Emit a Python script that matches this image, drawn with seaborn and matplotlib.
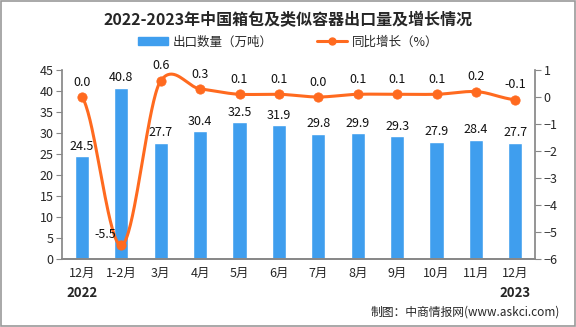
import numpy as np
import pandas as pd
import matplotlib
matplotlib.use("Agg")
import matplotlib.pyplot as plt
import seaborn as sns
from matplotlib.patches import Rectangle
from matplotlib.lines import Line2D
from matplotlib.patches import Patch

sns.set_theme(style="white")
plt.rcParams['font.family'] = ['Noto Sans CJK SC', 'DejaVu Sans']
plt.rcParams['axes.unicode_minus'] = False

categories = ["12月", "1-2月", "3月", "4月", "5月", "6月", "7月", "8月", "9月", "10月", "11月", "12月"]
volume = [24.5, 40.8, 27.7, 30.4, 32.5, 31.9, 29.8, 29.9, 29.3, 27.9, 28.4, 27.7]
growth = [0.0, -5.5, 0.6, 0.3, 0.1, 0.1, 0.0, 0.1, 0.1, 0.1, 0.2, -0.1]
years = ["2022", "2023"]

BAR = "#3f9eee"
LINE = "#ff6a1f"

fig = plt.figure(figsize=(5.76, 3.27), dpi=100)
ax = fig.add_axes([0.108, 0.208, 0.821, 0.578])
ax2 = ax.twinx()

df = pd.DataFrame({"cat": categories, "x": np.arange(len(categories)), "vol": volume, "g": growth})
sns.barplot(x="x", y="vol", data=df, ax=ax, color=BAR, width=0.36, saturation=1, native_scale=True)

# smooth curve (cardinal spline through the data points)
x = df["x"].to_numpy(float)
y = df["g"].to_numpy(float)
k = 0.35
m = np.zeros_like(y)
m[1:-1] = k * (y[2:] - y[:-2])
m[0] = k * (y[1] - y[0])
m[-1] = k * (y[-1] - y[-2])
xs, ys = [], []
for i in range(len(x) - 1):
    t = np.linspace(0, 1, 40)
    h00 = 2 * t**3 - 3 * t**2 + 1
    h10 = t**3 - 2 * t**2 + t
    h01 = -2 * t**3 + 3 * t**2
    h11 = t**3 - t**2
    seg = h00 * y[i] + h10 * m[i] + h01 * y[i + 1] + h11 * m[i + 1]
    xs.extend(x[i] + t)
    ys.extend(seg)
ax2.plot(xs, ys, color=LINE, lw=2.2, zorder=3)
sns.scatterplot(x="x", y="g", data=df, ax=ax2, color=LINE, s=45, edgecolor=LINE, zorder=4, legend=False)

ax.set_xlim(-0.5, len(categories) - 0.5)
ax.set_ylim(0, 45)
ax.set_yticks(np.arange(0, 46, 5))
ax2.set_ylim(-6, 1)
ax2.set_yticks(np.arange(-6, 2, 1))
ax2.set_yticklabels([f"{v:d}".replace("-", "−") for v in range(-6, 2)])

ax.set_xticks(np.arange(len(categories)))
ax.set_xticklabels(categories, fontsize=9)
ax.set_xticks(np.arange(-0.5, len(categories), 1), minor=True)
ax.tick_params(axis="x", which="major", length=0, pad=6)
ax.tick_params(axis="x", which="minor", length=5, color="#888888", width=0.8, direction="out")
ax.tick_params(axis="y", length=4, color="#888888", width=0.8, direction="out", labelsize=9, pad=2)
ax2.tick_params(axis="y", length=4, color="#888888", width=0.8, direction="out", labelsize=9, pad=2)
ax.set_xlabel("")
ax.set_ylabel("")
ax2.set_ylabel("")
ax2.set_xlabel("")

for a in (ax, ax2):
    a.spines["top"].set_visible(False)
    a.spines["left"].set_color("#888888")
    a.spines["right"].set_color("#888888")
    a.spines["bottom"].set_color("#888888")
ax.spines["right"].set_visible(False)
ax2.spines["left"].set_visible(False)
ax.grid(False)
ax2.grid(False)

for i, v in enumerate(volume):
    ax.text(i, v + 0.8, f"{v:.1f}", ha="center", va="bottom", fontsize=9, color="#111111")
for i, v in enumerate(growth):
    lab = f"{v:.1f}"
    if i == 1:
        ax2.annotate(lab, (i, v), xytext=(-4, 3), textcoords="offset points", ha="right", va="bottom", fontsize=9, color="#111111")
    else:
        ax2.annotate(lab, (i, v), xytext=(0, 6), textcoords="offset points", ha="center", va="bottom", fontsize=9, color="#111111")

# year labels
ax.text(0, -0.145, years[0], transform=ax.get_xaxis_transform(), ha="center", va="top", fontsize=9.5, fontweight="bold")
ax.text(len(categories) - 1, -0.145, years[1], transform=ax.get_xaxis_transform(), ha="center", va="top", fontsize=9.5, fontweight="bold")

fig.text(0.5, 0.94, "2022-2023年中国箱包及类似容器出口量及增长情况", ha="center", va="center", fontsize=11.5, fontweight="bold")

handles = [Patch(facecolor=BAR, edgecolor=BAR),
           Line2D([0], [0], color=LINE, lw=2.2, marker="o", markersize=5)]
fig.legend(handles, ["出口数量（万吨）", "同比增长（%）"], loc="center", bbox_to_anchor=(0.5, 0.872),
           ncol=2, frameon=False, fontsize=9, handlelength=2.4, handleheight=0.7, columnspacing=3.5, handletextpad=0.4)

fig.text(0.972, 0.045, "制图：中商情报网(www.askci.com)", ha="right", va="center", fontsize=8.5)

fig.patches.append(Rectangle((0.002, 0.003), 0.996, 0.994, transform=fig.transFigure, fill=False, edgecolor="#999999", lw=1.2))

fig.savefig("out.png", dpi=100)
